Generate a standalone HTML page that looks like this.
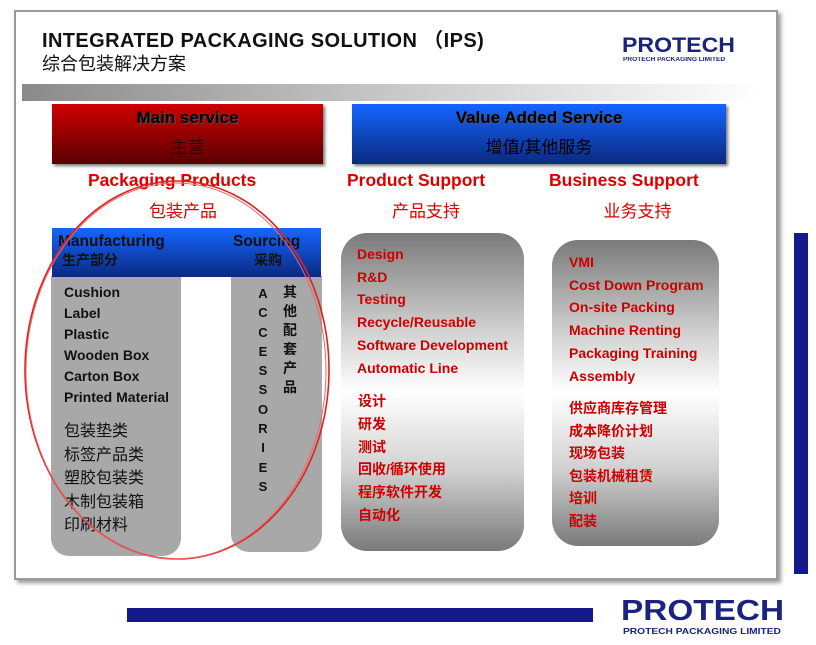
<!DOCTYPE html>
<html><head><meta charset="utf-8"><style>
body{margin:0;width:816px;height:645px;background:#fff;position:relative;overflow:hidden;font-family:"Liberation Sans","Noto Sans CJK SC",sans-serif}
.a{position:absolute}
.t{position:absolute;white-space:nowrap;line-height:1}
.b{font-weight:bold}
</style></head><body>
<div class="a" style="left:14px;top:10px;width:760px;height:566px;border:2px solid #9a9a9a;box-shadow:3px 3px 4px #999;background:#fff"></div>
<div class="t b" style="left:42px;top:31px;font-size:20px;color:#111;letter-spacing:0.4px">INTEGRATED PACKAGING SOLUTION （IPS)</div>
<div class="t" style="left:42px;top:55px;font-size:18px;color:#111">综合包装解决方案</div>
<div class="t b" style="left:622px;top:35px;font-size:21px;color:#1a237e;transform:scaleX(1.1);transform-origin:left">PROTECH</div>
<div class="t b" style="left:623px;top:57px;font-size:6px;color:#1a237e;transform:scaleX(1.1);transform-origin:left">PROTECH PACKAGING LIMITED</div>
<div class="a" style="left:22px;top:84px;width:740px;height:17px;background:linear-gradient(to right,#8a8a8a,#c8c8c8 50%,#fff)"></div>
<div class="a" style="left:52px;top:104px;width:271px;height:60px;background:linear-gradient(#d00000,#5a0000);box-shadow:2px 2px 3px #777"></div>
<div class="t b" style="left:52px;width:271px;text-align:center;top:109px;font-size:17px;color:#000;text-shadow:1px 1px 1px #555">Main service</div>
<div class="t" style="left:52px;width:271px;text-align:center;top:139px;font-size:17px;color:#300">主营</div>
<div class="a" style="left:352px;top:104px;width:374px;height:60px;background:linear-gradient(#1566ff,#0a2a80);box-shadow:2px 2px 3px #777"></div>
<div class="t b" style="left:352px;width:374px;text-align:center;top:109px;font-size:17px;color:#000;text-shadow:1px 1px 1px #555">Value Added Service</div>
<div class="t" style="left:352px;width:374px;text-align:center;top:139px;font-size:17px;color:#000">增值/其他服务</div>
<div class="t b" style="left:88px;top:172px;font-size:17.5px;color:#d00">Packaging Products</div>
<div class="t" style="left:52px;width:262px;text-align:center;top:203px;font-size:17px;color:#d00">包装产品</div>
<div class="t b" style="left:347px;top:172px;font-size:17.5px;color:#d00">Product Support</div>
<div class="t" style="left:340px;width:172px;text-align:center;top:203px;font-size:17px;color:#d00">产品支持</div>
<div class="t b" style="left:549px;top:172px;font-size:17.5px;color:#d00">Business Support</div>
<div class="t" style="left:545px;width:185px;text-align:center;top:203px;font-size:17px;color:#d00">业务支持</div>
<div class="a" style="left:51px;top:276px;width:130px;height:280px;background:#a8a8a8;border-radius:0 0 18px 18px"></div>
<div class="a" style="left:231px;top:276px;width:91px;height:276px;background:#a8a8a8;border-radius:0 0 18px 18px"></div>
<div class="a" style="left:52px;top:228px;width:269px;height:49px;background:linear-gradient(#1566ff,#0a2a80)"></div>
<div class="t b" style="left:58px;top:234px;font-size:15.5px;color:#111">Manufacturing</div>
<div class="t b" style="left:62px;top:253px;font-size:14px;color:#111">生产部分</div>
<div class="t b" style="left:233px;top:234px;font-size:15.5px;color:#111">Sourcing</div>
<div class="t b" style="left:254px;top:253px;font-size:14px;color:#111">采购</div>
<div class="t b" style="left:64px;top:282px;font-size:14px;color:#111;line-height:21px">Cushion<br>Label<br>Plastic<br>Wooden Box<br>Carton Box<br>Printed Material</div>
<div class="t" style="left:64px;top:420px;font-size:16px;color:#111;line-height:23.5px">包装垫类<br>标签产品类<br>塑胶包装类<br>木制包装箱<br>印刷材料</div>
<div class="t b" style="left:257px;top:284px;font-size:13px;color:#111;line-height:19.3px;width:12px;text-align:center">A<br>C<br>C<br>E<br>S<br>S<br>O<br>R<br>I<br>E<br>S</div>
<div class="t b" style="left:283px;top:283px;font-size:14px;color:#111;line-height:19px">其<br>他<br>配<br>套<br>产<br>品</div>
<div class="a" style="left:341px;top:233px;width:183px;height:318px;border-radius:26px;background:linear-gradient(#7a7a7a,#cfcfcf 30%,#fff 50%,#d0d0d0 75%,#7a7a7a)"></div>
<div class="t b" style="left:357px;top:243px;font-size:14px;color:#c00;line-height:22.7px">Design<br>R&amp;D<br>Testing<br>Recycle/Reusable<br>Software Development<br>Automatic Line</div>
<div class="t b" style="left:358px;top:390px;font-size:14px;color:#c00;line-height:22.8px">设计<br>研发<br>测试<br>回收/循环使用<br>程序软件开发<br>自动化</div>
<div class="a" style="left:552px;top:240px;width:167px;height:306px;border-radius:26px;background:linear-gradient(#7a7a7a,#cfcfcf 30%,#fff 50%,#d0d0d0 75%,#7a7a7a)"></div>
<div class="t b" style="left:569px;top:251px;font-size:14px;color:#c00;line-height:22.7px">VMI<br>Cost Down Program<br>On-site Packing<br>Machine Renting<br>Packaging Training<br>Assembly</div>
<div class="t b" style="left:569px;top:397px;font-size:14px;color:#c00;line-height:22.6px">供应商库存管理<br>成本降价计划<br>现场包装<br>包装机械租赁<br>培训<br>配装</div>
<svg class="a" style="left:0;top:0" width="816" height="645"><ellipse cx="177" cy="370" rx="152" ry="189" fill="none" stroke="#d22" stroke-width="1.6"/><ellipse cx="176" cy="371" rx="150" ry="188" fill="none" stroke="#e66" stroke-width="1"/></svg>
<div class="a" style="left:794px;top:233px;width:14px;height:341px;background:#141a8c"></div>
<div class="a" style="left:127px;top:608px;width:466px;height:14px;background:#141a8c"></div>
<div class="t b" style="left:621px;top:597px;font-size:29px;color:#1a237e;transform:scaleX(1.15);transform-origin:left">PROTECH</div>
<div class="t b" style="left:623px;top:627px;font-size:8.5px;color:#1a237e;transform:scaleX(1.2);transform-origin:left">PROTECH PACKAGING LIMITED</div>
</body></html>
